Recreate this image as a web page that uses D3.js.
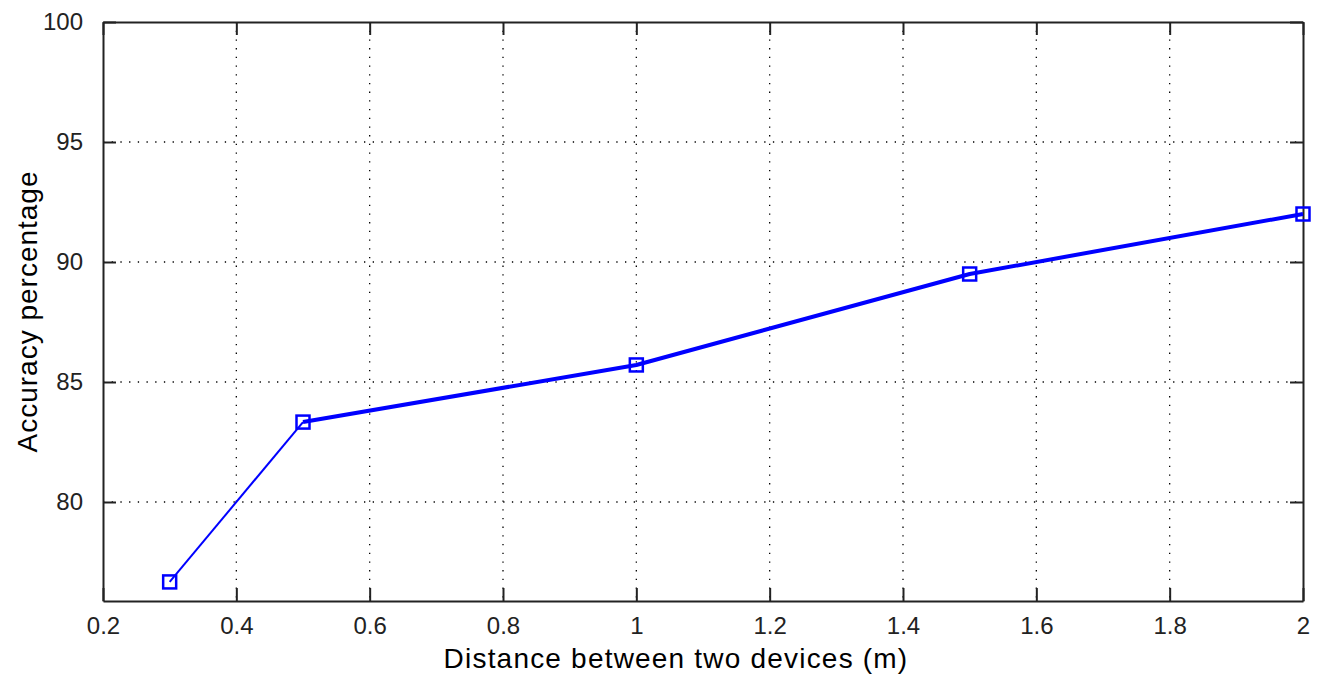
<!DOCTYPE html>
<html>
<head>
<meta charset="utf-8">
<script src="https://cdnjs.cloudflare.com/ajax/libs/d3/7.8.5/d3.min.js"></script>
<style>
  body { margin: 0; background: #fff; }
  text { font-family: "Liberation Sans", Arial, sans-serif; fill: #222; }
</style>
</head>
<body>
<div id="chart"></div>
<script>
// data
var distance = [0.3, 0.5, 1, 1.5, 2];
var accuracy = [76.67, 83.33, 85.71, 89.5, 92.0];
var xTicks = [0.2, 0.4, 0.6, 0.8, 1, 1.2, 1.4, 1.6, 1.8, 2];
var yTicks = [80, 85, 90, 95, 100];

var data = distance.map(function(d, i){ return {x: d, y: accuracy[i]}; });

var W = 1328, H = 681;
var margin = {top: 22, right: 25, bottom: 80, left: 103},
    width = W - margin.left - margin.right,
    height = H - margin.top - margin.bottom;

var svg = d3.select("#chart")
    .append("svg")
    .attr("width", W)
    .attr("height", H)
    .append("g")
    .attr("transform", "translate(" + margin.left + "," + margin.top + ")");

var x = d3.scaleLinear().domain([0.2, 2]).range([0, width]);
var y = d3.scaleLinear().domain([75.875, 100]).range([height, 0]);

// dotted grid
svg.append("g").selectAll("line.gx")
    .data(xTicks.slice(1, -1))
    .enter().append("line")
    .attr("x1", d => x(d)).attr("x2", d => x(d))
    .attr("y1", 0).attr("y2", height)
    .style("stroke", "#000").style("stroke-width", 1.3)
    .style("stroke-dasharray", "1.3,7.4");
svg.append("g").selectAll("line.gy")
    .data(yTicks.slice(0, -1))
    .enter().append("line")
    .attr("x1", 0).attr("x2", width)
    .attr("y1", d => y(d)).attr("y2", d => y(d))
    .style("stroke", "#000").style("stroke-width", 1.3)
    .style("stroke-dasharray", "1.3,7.4");

// axes, ticks inward on all four sides
var tickLen = 13;
var axB = svg.append("g").attr("transform", "translate(0," + height + ")")
    .call(d3.axisBottom(x).tickValues(xTicks).tickSizeInner(-tickLen).tickSizeOuter(0).tickPadding(20).tickFormat(d3.format("")));
var axT = svg.append("g")
    .call(d3.axisTop(x).tickValues(xTicks).tickSizeInner(-tickLen).tickSizeOuter(0).tickFormat(""));
var axL = svg.append("g")
    .call(d3.axisLeft(y).tickValues(yTicks).tickSizeInner(-tickLen).tickSizeOuter(0).tickPadding(20));
var axR = svg.append("g").attr("transform", "translate(" + width + ",0)")
    .call(d3.axisRight(y).tickValues(yTicks).tickSizeInner(-tickLen).tickSizeOuter(0).tickFormat(""));

svg.selectAll(".domain").style("stroke", "#222").style("stroke-width", 2);
svg.selectAll(".tick line").style("stroke", "#222").style("stroke-width", 2);
svg.selectAll(".tick text").style("font-size", "24px").style("fill", "#222");
axB.selectAll(".tick text").attr("dy", "0.55em");

// line (first segment thinner, as in the picture)
var line = d3.line().x(d => x(d.x)).y(d => y(d.y));
svg.append("path")
    .datum(data.slice(0, 2))
    .attr("d", line)
    .style("fill", "none").style("stroke", "#0000ff").style("stroke-width", "2px");
svg.append("path")
    .datum(data.slice(1))
    .attr("d", line)
    .style("fill", "none").style("stroke", "#0000ff").style("stroke-width", "4px")
    .style("stroke-linejoin", "round");

// square markers
var ms = 13;
svg.append("g").selectAll("rect")
    .data(data)
    .enter().append("rect")
    .attr("x", d => x(d.x) - ms / 2)
    .attr("y", d => y(d.y) - ms / 2)
    .attr("width", ms).attr("height", ms)
    .style("fill", "none").style("stroke", "#0000ff").style("stroke-width", 2.5);

// axis labels
svg.append("text")
    .attr("x", width / 2 - 27).attr("y", height + 67)
    .attr("text-anchor", "middle")
    .style("font-size", "28px").style("letter-spacing", "1.2px").style("fill", "#000")
    .text("Distance between two devices (m)");
svg.append("text")
    .attr("transform", "translate(" + (-66) + "," + (height / 2) + ") rotate(-90)")
    .attr("text-anchor", "middle")
    .style("font-size", "28px").style("letter-spacing", "1px").style("fill", "#000")
    .text("Accuracy percentage");
</script>
</body>
</html>
